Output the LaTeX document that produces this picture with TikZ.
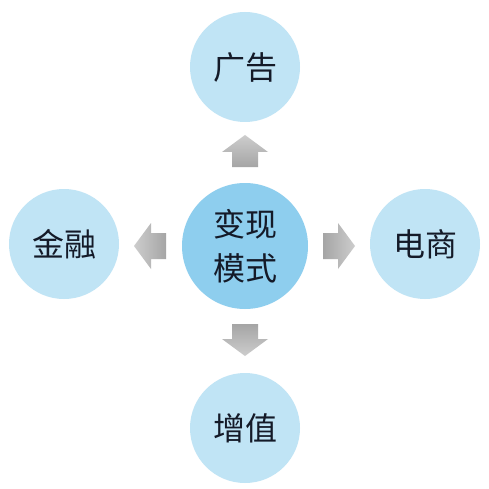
\documentclass[tikz,border=0pt]{standalone}
\usepackage{fontspec}
\newfontfamily\cjk{Noto Sans CJK SC}
\definecolor{centerblue}{RGB}{142,206,238}
\definecolor{outerblue}{RGB}{192,228,245}
\definecolor{txt}{RGB}{20,26,40}
\definecolor{arrowdark}{RGB}{165,165,165}
\definecolor{arrowlight}{RGB}{205,205,205}
\begin{document}
\begin{tikzpicture}[x=1pt,y=-1pt,
  outer/.style={circle,fill=outerblue,minimum size=110pt,inner sep=0pt,font=\cjk\fontsize{32}{32}\selectfont,text=txt},
  inner/.style={circle,fill=centerblue,minimum size=126pt,inner sep=0pt,font=\cjk\fontsize{32}{44}\selectfont,text=txt,align=center}]
\useasboundingbox (0,0) rectangle (489,489);
\fill[white] (0,0) rectangle (489,489);
\node[inner] (c) at (245,246) {变现\\模式};
\node[outer] (t) at (245,67) {广告};
\node[outer] (l) at (64,244) {金融};
\node[outer] (r) at (425,244) {电商};
\node[outer] (b) at (245,428) {增值};
% arrows
\coordinate (ta) at (245,151);
\coordinate (ba) at (245,340);
\coordinate (la) at (150,246);
\coordinate (ra) at (339,246);
\shade[top color=arrowlight,bottom color=arrowdark]
  ([shift={(0,-16)}]ta) -- ([shift={(23,1)}]ta) -- ([shift={(13,1)}]ta) -- ([shift={(13,16)}]ta)
  -- ([shift={(-13,16)}]ta) -- ([shift={(-13,1)}]ta) -- ([shift={(-23,1)}]ta) -- cycle;
\shade[top color=arrowdark,bottom color=arrowlight]
  ([shift={(0,16)}]ba) -- ([shift={(23,-1)}]ba) -- ([shift={(13,-1)}]ba) -- ([shift={(13,-16)}]ba)
  -- ([shift={(-13,-16)}]ba) -- ([shift={(-13,-1)}]ba) -- ([shift={(-23,-1)}]ba) -- cycle;
\shade[left color=arrowlight,right color=arrowdark]
  ([shift={(-16,0)}]la) -- ([shift={(1,23)}]la) -- ([shift={(1,13)}]la) -- ([shift={(16,13)}]la)
  -- ([shift={(16,-13)}]la) -- ([shift={(1,-13)}]la) -- ([shift={(1,-23)}]la) -- cycle;
\shade[left color=arrowdark,right color=arrowlight]
  ([shift={(16,0)}]ra) -- ([shift={(-1,23)}]ra) -- ([shift={(-1,13)}]ra) -- ([shift={(-16,13)}]ra)
  -- ([shift={(-16,-13)}]ra) -- ([shift={(-1,-13)}]ra) -- ([shift={(-1,-23)}]ra) -- cycle;
\end{tikzpicture}
\end{document}
